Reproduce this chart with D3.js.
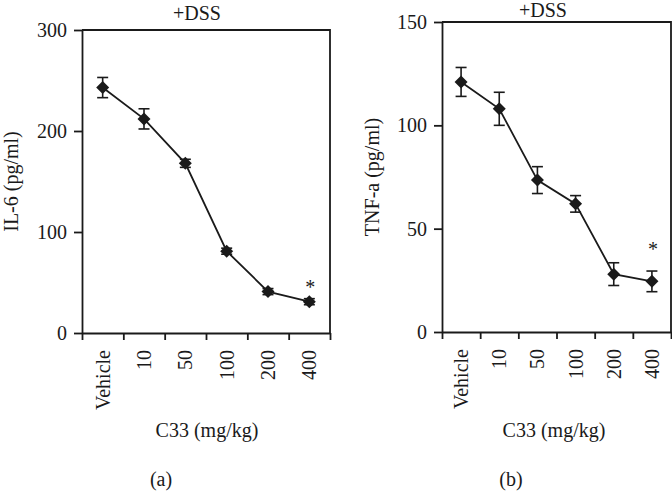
<!DOCTYPE html>
<html>
<head>
<meta charset="utf-8">
<script src="https://cdn.jsdelivr.net/npm/d3@7"></script>
<style>
  body { margin: 0; background: #fff; }
  svg text { font-family: "Liberation Serif", "DejaVu Serif", serif; fill: #1a1a1a; font-size: 20px; }
  .axis path, .axis line { stroke: #1a1a1a; stroke-width: 1.8; }
  .axis text { font-size: 20px; font-family: "Liberation Serif", serif; }
</style>
</head>
<body>
<div class="chart"></div>
<script>
var categories = ["Vehicle", "10", "50", "100", "200", "400"];
var il6Mean = [243, 212, 168, 81, 41, 31];
var il6Err = [10, 10, 4, 3, 3, 3];
var tnfMean = [121, 108, 73.5, 62, 28, 24.5];
var tnfErr = [7, 8, 6.5, 4, 5.5, 5];
var il6Ticks = [0, 100, 200, 300];
var tnfTicks = [0, 50, 100, 150];

var svg = d3.select(".chart")
    .append("svg")
    .attr("width", 672)
    .attr("height", 502);

function drawPanel(p) {
    var g = svg.append("g");
    var x = d3.scaleBand().domain(categories).range([p.left, p.right]).padding(0);
    var xEdge = d3.scaleLinear().domain([0, categories.length]).range([p.left, p.right]);
    var y = d3.scaleLinear().domain([0, p.ymax]).range([p.bottom, p.top]);
    var cx = d => x(d) + x.bandwidth() / 2;

    // frame (top and right sides)
    g.append("path")
        .attr("d", `M${p.left},${p.top}H${p.right}V${p.bottom}`)
        .attr("fill", "none")
        .attr("stroke", "#1a1a1a")
        .attr("stroke-width", 1.8);

    // y axis
    g.append("g")
        .attr("class", "axis")
        .attr("transform", `translate(${p.left},0)`)
        .call(d3.axisLeft(y).tickValues(p.ticks).tickSize(8).tickPadding(7).tickSizeOuter(0));

    // x axis, ticks at the band edges
    g.append("g")
        .attr("class", "axis")
        .attr("transform", `translate(0,${p.bottom})`)
        .call(d3.axisBottom(xEdge).tickValues(d3.range(categories.length + 1)).tickSize(7).tickFormat("").tickSizeOuter(0));

    // rotated category labels
    g.append("g")
        .selectAll("text")
        .data(categories)
        .enter()
        .append("text")
        .attr("transform", d => `translate(${cx(d) + 7},${p.bottom + 17}) rotate(-90)`)
        .attr("text-anchor", "end")
        .text(d => d);

    var pts = categories.map((c, i) => ({ c: c, m: p.mean[i], e: p.err[i] }));

    g.append("path")
        .datum(pts)
        .attr("fill", "none")
        .attr("stroke", "#1a1a1a")
        .attr("stroke-width", 1.8)
        .attr("d", d3.line().x(d => cx(d.c)).y(d => y(d.m)));

    // error bars
    var eb = g.selectAll(".err").data(pts).enter().append("g")
        .attr("stroke", "#1a1a1a")
        .attr("stroke-width", 1.6);
    eb.append("line")
        .attr("x1", d => cx(d.c))
        .attr("x2", d => cx(d.c))
        .attr("y1", d => y(d.m - d.e))
        .attr("y2", d => y(d.m + d.e));
    eb.selectAll(".cap")
        .data(d => [{ c: d.c, v: d.m - d.e }, { c: d.c, v: d.m + d.e }])
        .enter()
        .append("line")
        .attr("x1", d => cx(d.c) - 5.5)
        .attr("x2", d => cx(d.c) + 5.5)
        .attr("y1", d => y(d.v))
        .attr("y2", d => y(d.v));

    // diamonds
    g.selectAll(".pt")
        .data(pts)
        .enter()
        .append("path")
        .attr("d", "M0,-6.5L6.5,0L0,6.5L-6.5,0Z")
        .attr("fill", "#1a1a1a")
        .attr("transform", d => `translate(${cx(d.c)},${y(d.m)})`);

    // significance mark
    g.append("text")
        .attr("x", cx(categories[5]) + p.starDx)
        .attr("y", y(p.mean[5] + p.err[5]) + p.starDy)
        .attr("text-anchor", "middle")
        .text("*");

    g.append("text")
        .attr("x", p.titleX)
        .attr("y", p.titleY)
        .attr("text-anchor", "middle")
        .text("+DSS");

    g.append("text")
        .attr("transform", `translate(${p.ylabX},${(p.top + p.bottom) / 2}) rotate(-90)`)
        .attr("text-anchor", "middle")
        .text(p.ylabel);

    g.append("text")
        .attr("x", p.xlabX)
        .attr("y", 437)
        .attr("text-anchor", "middle")
        .text("C33 (mg/kg)");

    g.append("text")
        .attr("x", p.subX)
        .attr("y", 486)
        .attr("text-anchor", "middle")
        .text(p.sub);
}

drawPanel({
    left: 82, right: 330, top: 30, bottom: 333, ymax: 300, ticks: il6Ticks,
    mean: il6Mean, err: il6Err, ylabel: "IL-6 (pg/ml)", ylabX: 18,
    titleX: 197, titleY: 20, xlabX: 207, sub: "(a)", subX: 161, starDx: 1, starDy: -5
});

drawPanel({
    left: 442, right: 671, top: 22, bottom: 332, ymax: 150, ticks: tnfTicks,
    mean: tnfMean, err: tnfErr, ylabel: "TNF-a (pg/ml)", ylabX: 379,
    titleX: 543, titleY: 17, xlabX: 554, sub: "(b)", subX: 511, starDx: 1, starDy: -15
});
</script>
</body>
</html>
